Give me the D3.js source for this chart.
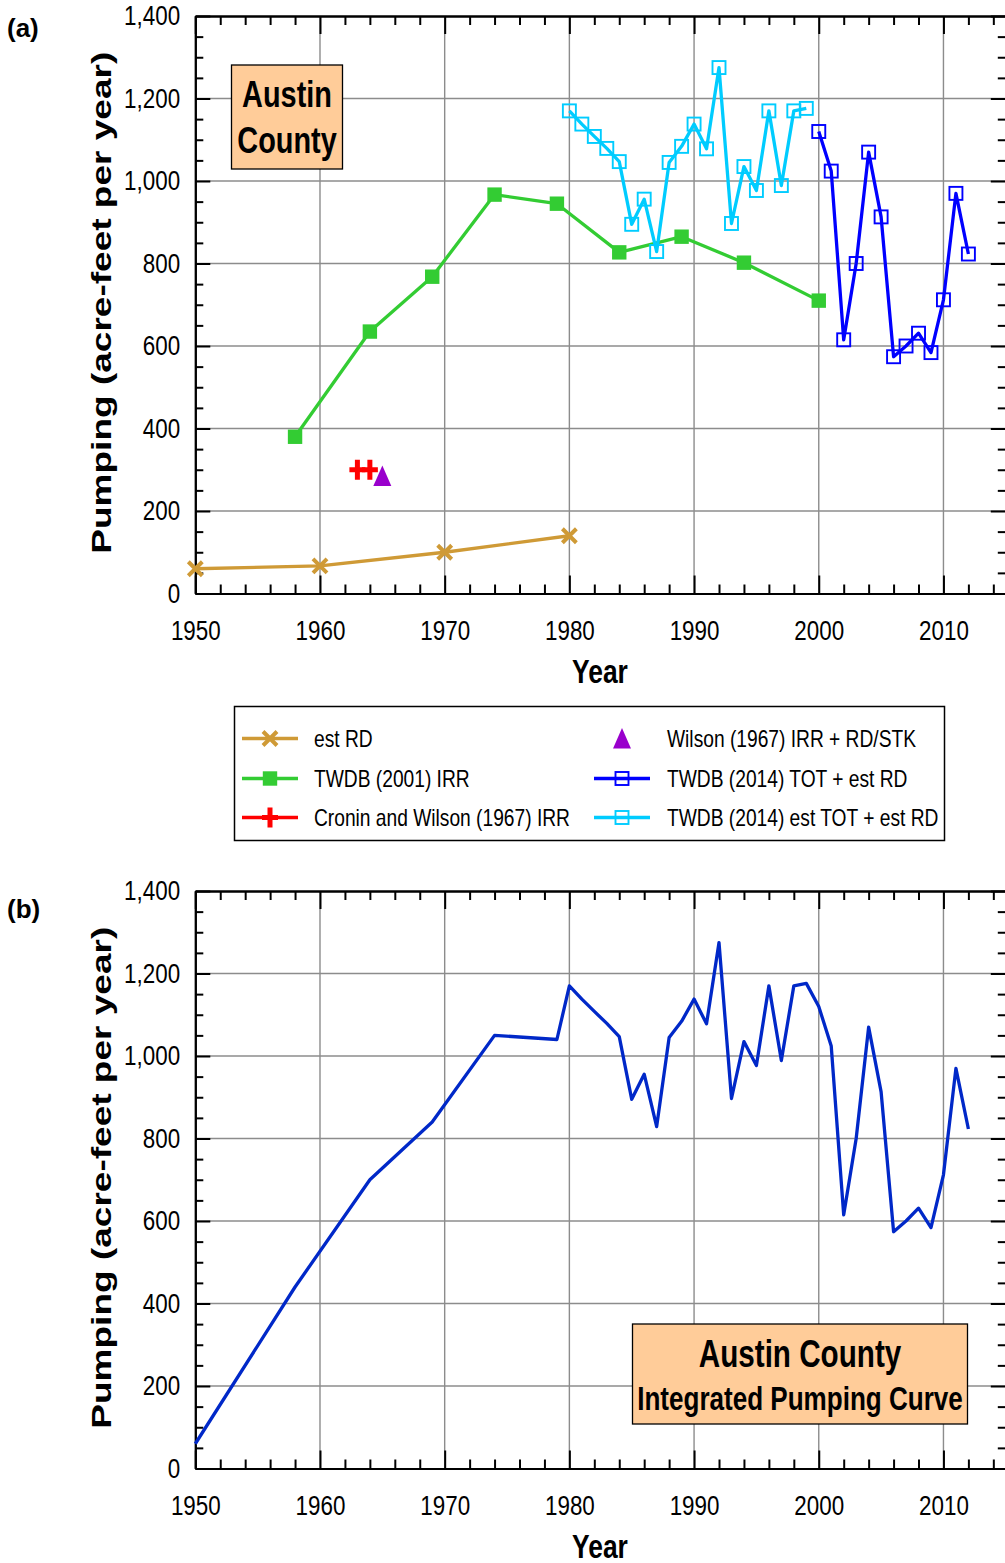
<!DOCTYPE html>
<html><head><meta charset="utf-8">
<script src="https://cdn.jsdelivr.net/npm/d3@7"></script>
<style>
body{margin:0;background:#fff}
svg{display:block}
text{font-family:"Liberation Sans",Arial,sans-serif;fill:#000}
</style>
</head><body>
<svg id="c" width="1005" height="1563"></svg>
<script>
// ---------------- DATA ----------------
const estRDYears = [1950, 1960, 1970, 1980];
const estRDValues = [60, 67, 100, 140];

const twdb2001Years = [1958, 1964, 1969, 1974, 1979, 1984, 1989, 1994, 2000];
const twdb2001Values = [380, 635, 768, 967, 945, 827, 865, 802, 710];

const croninYears = [1963, 1964];
const croninValues = [300, 300];

const wilsonYears = [1965];
const wilsonValues = [285];

const estTotYears = [1980, 1981, 1982, 1983, 1984, 1985, 1986, 1987, 1988, 1989,
                     1990, 1991, 1992, 1993, 1994, 1995, 1996, 1997, 1998, 1999];
const estTotValues = [1170, 1138, 1108, 1079, 1047, 895, 956, 829, 1045, 1084,
                      1138, 1078, 1275, 897, 1035, 977, 1170, 989, 1170, 1176];

const totYears = [2000, 2001, 2002, 2003, 2004, 2005, 2006, 2007, 2008, 2009, 2010, 2011, 2012];
const totValues = [1120, 1024, 615, 800, 1070, 913, 574, 600, 631, 584, 712, 970, 823];

const integratedEarlyYears = [1950, 1958, 1964, 1969, 1974, 1979];
const integratedEarlyValues = [60, 440, 700, 840, 1050, 1040];

const xTickLabels = [1950, 1960, 1970, 1980, 1990, 2000, 2010];
const yTickLabels = [0, 200, 400, 600, 800, 1000, 1200, 1400];

const legendLabels = ["est RD", "TWDB (2001) IRR", "Cronin and Wilson (1967) IRR",
  "Wilson (1967) IRR + RD/STK", "TWDB (2014) TOT + est RD", "TWDB (2014) est TOT + est RD"];

// integrated curve built from the series above
const integratedYears = integratedEarlyYears.concat(estTotYears, totYears);
const integratedValues = integratedEarlyValues.concat(estTotValues, totValues);

// ---------------- STYLE ----------------
const C = {
  estRD: "#cf9a36", twdb2001: "#33cc33", cronin: "#ff0000", wilson: "#9900cc",
  tot: "#0000ff", estTot: "#00ccff", integ: "#0028c8", grid: "#8c8c8c"
};
const SX = 0.8;

const svg = d3.select("#c");
const x = d3.scaleLinear().domain([1950, 2015]).range([195.3, 1005.8]);
const yA = d3.scaleLinear().domain([0, 1400]).range([593.5, 16]);
const yB = d3.scaleLinear().domain([0, 1400]).range([1468.5, 891]);

function ctext(g, px, py, str, size, weight, anchor, sx) {
  return g.append("text")
    .attr("transform", `translate(${px},${py}) scale(${sx == null ? SX : sx},1)`)
    .attr("text-anchor", anchor).attr("font-size", size).attr("font-weight", weight)
    .text(str);
}

function styleAxis(sel, withText) {
  sel.attr("font-family", null).attr("font-size", null);
  sel.select(".domain").attr("stroke", "#000").attr("stroke-width", 2);
  sel.selectAll(".tick line").attr("stroke", "#000").attr("stroke-width", 2);
  if (withText) {
    sel.selectAll(".tick text").attr("font-size", 28).attr("fill", "#000")
      .attr("transform", `scale(${SX},1)`);
  } else {
    sel.selectAll(".tick text").remove();
  }
}

function frame(g, y) {
  const [x0, x1] = x.range();
  const [y0, y1] = y.range();
  // grid
  g.append("g").selectAll("line").data(xTickLabels.slice(1)).join("line")
    .attr("x1", d => x(d)).attr("x2", d => x(d)).attr("y1", y0).attr("y2", y1)
    .attr("stroke", C.grid).attr("stroke-width", 1.4);
  g.append("g").selectAll("line").data(yTickLabels.slice(1, -1)).join("line")
    .attr("x1", x0).attr("x2", x1).attr("y1", d => y(d)).attr("y2", d => y(d))
    .attr("stroke", C.grid).attr("stroke-width", 1.4);

  const xMinor = d3.range(1952, 2015, 2).filter(d => d % 10 !== 0);
  const yMinor = d3.range(50, 1400, 50).filter(d => d % 200 !== 0);

  // bottom
  g.append("g").attr("transform", `translate(0,${y0})`)
    .call(d3.axisBottom(x).tickValues(xTickLabels).tickSize(-18).tickSizeOuter(0)
      .tickPadding(27).tickFormat(d3.format("d")))
    .call(s => styleAxis(s, true));
  g.append("g").attr("transform", `translate(0,${y0})`)
    .call(d3.axisBottom(x).tickValues(xMinor).tickSize(-9).tickSizeOuter(0))
    .call(s => styleAxis(s, false));
  // top
  g.append("g").attr("transform", `translate(0,${y1})`)
    .call(d3.axisTop(x).tickValues(xTickLabels).tickSize(-18).tickSizeOuter(0))
    .call(s => styleAxis(s, false));
  g.append("g").attr("transform", `translate(0,${y1})`)
    .call(d3.axisTop(x).tickValues(xMinor).tickSize(-9).tickSizeOuter(0))
    .call(s => styleAxis(s, false));
  // left
  g.append("g").attr("transform", `translate(${x0},0)`)
    .call(d3.axisLeft(y).tickValues(yTickLabels).tickSize(-15).tickSizeOuter(0)
      .tickPadding(19).tickFormat(d3.format(",")))
    .call(s => styleAxis(s, true));
  g.append("g").attr("transform", `translate(${x0},0)`)
    .call(d3.axisLeft(y).tickValues(yMinor).tickSize(-8).tickSizeOuter(0))
    .call(s => styleAxis(s, false));
  // right
  g.append("g").attr("transform", `translate(${x1},0)`)
    .call(d3.axisRight(y).tickValues(yTickLabels).tickSize(-15).tickSizeOuter(0))
    .call(s => styleAxis(s, false));
  g.append("g").attr("transform", `translate(${x1},0)`)
    .call(d3.axisRight(y).tickValues(yMinor).tickSize(-8).tickSizeOuter(0))
    .call(s => styleAxis(s, false));

  // axis titles
  const midY = (y0 + y1) / 2;
  g.append("text")
    .attr("transform", `translate(111,${midY - 2}) rotate(-90)`)
    .attr("text-anchor", "middle").attr("font-size", 28).attr("font-weight", "bold")
    .attr("textLength", 502).attr("lengthAdjust", "spacingAndGlyphs")
    .text("Pumping (acre-feet per year)");
  ctext(g, 600, y0 + 89, "Year", 33, "bold", "middle");
}

function marker(g, type, cx, cy, color) {
  if (type === "x") {
    g.append("path").attr("d", "M-7,-7L7,7M-7,7L7,-7")
      .attr("transform", `translate(${cx},${cy})`)
      .attr("stroke", color).attr("stroke-width", 4).attr("fill", "none");
  } else if (type === "plus") {
    g.append("path").attr("d", "M-8,0H8M0,-10V10")
      .attr("transform", `translate(${cx},${cy})`)
      .attr("stroke", color).attr("stroke-width", 5).attr("fill", "none");
  } else if (type === "tri") {
    g.append("path").attr("d", "M0,-10.5L9,10L-9,10Z")
      .attr("transform", `translate(${cx},${cy})`).attr("fill", color);
  } else if (type === "fsq") {
    g.append("rect").attr("x", cx - 7.2).attr("y", cy - 7.2).attr("width", 14.4).attr("height", 14.4)
      .attr("fill", color);
  } else if (type === "osq") {
    g.append("rect").attr("x", cx - 6.5).attr("y", cy - 6.5).attr("width", 13).attr("height", 13)
      .attr("fill", "none").attr("stroke", color).attr("stroke-width", 1.9);
  }
}

function series(g, y, years, values, color, type, withLine) {
  const pts = years.map((yr, i) => [x(yr), y(values[i])]);
  if (withLine) {
    g.append("path").attr("d", d3.line()(pts)).attr("fill", "none")
      .attr("stroke", color).attr("stroke-width", 3.3).attr("stroke-linejoin", "round");
  }
  pts.forEach(p => marker(g, type, p[0], p[1], color));
}

// ---------------- PANEL A ----------------
const gA = svg.append("g");
frame(gA, yA);
series(gA, yA, estRDYears, estRDValues, C.estRD, "x", true);
series(gA, yA, twdb2001Years, twdb2001Values, C.twdb2001, "fsq", true);
series(gA, yA, estTotYears, estTotValues, C.estTot, "osq", true);
series(gA, yA, totYears, totValues, C.tot, "osq", true);
series(gA, yA, croninYears, croninValues, C.cronin, "plus", false);
series(gA, yA, wilsonYears, wilsonValues, C.wilson, "tri", false);

// label box
gA.append("rect").attr("x", 231.5).attr("y", 65).attr("width", 111).attr("height", 104)
  .attr("fill", "#ffcc99").attr("stroke", "#000").attr("stroke-width", 1.3);
ctext(gA, 287, 107, "Austin", 37, "bold", "middle", 0.78);
ctext(gA, 287, 153, "County", 37, "bold", "middle", 0.78);

svg.append("text").attr("x", 7).attr("y", 37).attr("font-size", 26).attr("font-weight", "bold").text("(a)");

// ---------------- LEGEND ----------------
const gL = svg.append("g");
gL.append("rect").attr("x", 234.5).attr("y", 706.5).attr("width", 710).attr("height", 134)
  .attr("fill", "#fff").attr("stroke", "#000").attr("stroke-width", 1.5);
const legendSpec = [
  {col: 0, row: 0, color: C.estRD, type: "x", line: true},
  {col: 0, row: 1, color: C.twdb2001, type: "fsq", line: true},
  {col: 0, row: 2, color: C.cronin, type: "plus", line: true},
  {col: 1, row: 0, color: C.wilson, type: "tri", line: false},
  {col: 1, row: 1, color: C.tot, type: "osq", line: true},
  {col: 1, row: 2, color: C.estTot, type: "osq", line: true}
];
const rowY = [738.5, 778.5, 817.5];
const colMark = [270, 622];
const colText = [314, 667];
legendSpec.forEach((s, i) => {
  const cy = rowY[s.row], cx = colMark[s.col];
  if (s.line) {
    gL.append("line").attr("x1", cx - 28).attr("x2", cx + 28).attr("y1", cy).attr("y2", cy)
      .attr("stroke", s.color).attr("stroke-width", 3.3);
  }
  marker(gL, s.type, cx, cy, s.color);
  ctext(gL, colText[s.col], cy + 8.5, legendLabels[i], 24, "normal", "start");
});

// ---------------- PANEL B ----------------
const gB = svg.append("g");
frame(gB, yB);
gB.append("path")
  .attr("d", d3.line()(integratedYears.map((yr, i) => [x(yr), yB(integratedValues[i])])))
  .attr("fill", "none").attr("stroke", C.integ).attr("stroke-width", 3.3).attr("stroke-linejoin", "round");

gB.append("rect").attr("x", 632.5).attr("y", 1324).attr("width", 335).attr("height", 100)
  .attr("fill", "#ffcc99").attr("stroke", "#000").attr("stroke-width", 1.3);
ctext(gB, 800, 1367, "Austin County", 38, "bold", "middle", 0.78);
ctext(gB, 800, 1410, "Integrated Pumping Curve", 33, "bold", "middle", 0.79);

svg.append("text").attr("x", 7).attr("y", 918).attr("font-size", 26).attr("font-weight", "bold").text("(b)");
</script>
</body></html>
